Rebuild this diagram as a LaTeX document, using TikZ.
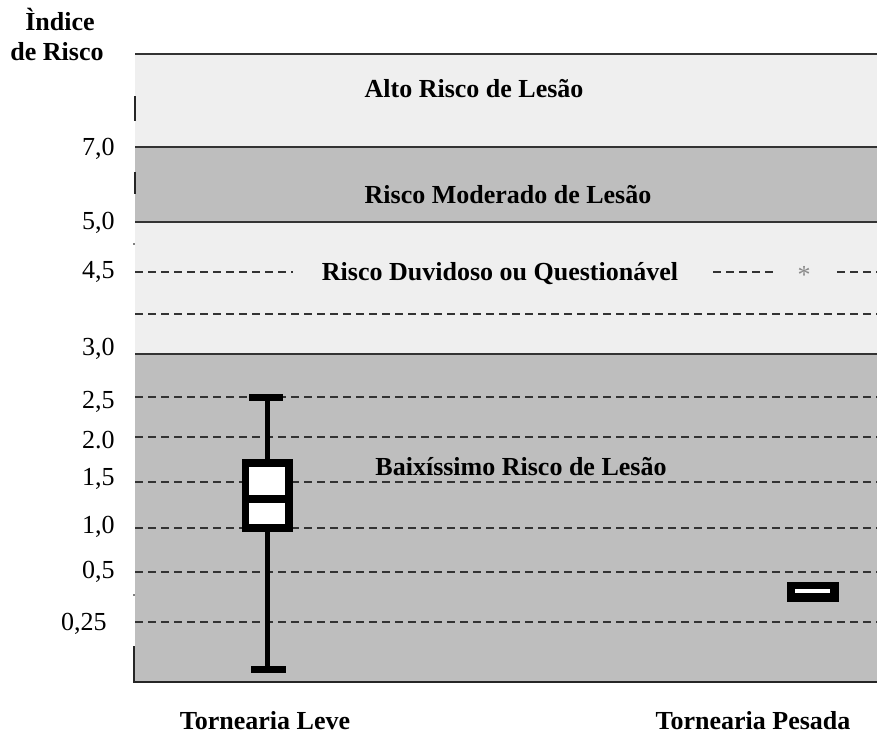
\documentclass[tikz,border=0pt]{standalone}
\usepackage{fontspec}
\setmainfont{Liberation Serif}
\definecolor{lightband}{HTML}{EFEFEF}
\definecolor{darkband}{HTML}{BEBEBE}
\definecolor{linec}{HTML}{333333}
\definecolor{astc}{HTML}{8A8A8A}
\begin{document}
\begin{tikzpicture}[x=0.75pt,y=-0.75pt,
  lbl/.style={font=\fontsize{19.5}{22}\selectfont\bfseries, inner sep=0pt, anchor=base},
  ticklbl/.style={font=\fontsize{19.5}{22}\selectfont, inner sep=0pt, anchor=base east},
  bandline/.style={draw=linec, line width=1.5pt},
  dashline/.style={draw=linec, line width=1.2pt, dash pattern=on 6pt off 3.75pt},
  axisline/.style={draw=black!85, line width=1.5pt},
]
\useasboundingbox (0,0) rectangle (877,736);
\fill[white] (0,0) rectangle (877,736);
% bands
\fill[lightband] (135,54) rectangle (877,147);
\fill[darkband] (135,147) rectangle (877,222);
\fill[lightband] (135,222) rectangle (877,354);
\fill[darkband] (135,354) rectangle (877,682);
% band borders
\draw[bandline] (135,54) -- (877,54);
\draw[bandline] (135,147) -- (877,147);
\draw[bandline] (135,222) -- (877,222);
\draw[bandline] (135,354) -- (877,354);
% dashed lines
\draw[dashline] (135,272) -- (293,272);
\draw[dashline] (713,272) -- (777,272);
\draw[dashline] (837,272) -- (877,272);
\foreach \yy in {314,397,437,482,528,572,622}
  \draw[dashline] (135,\yy) -- (877,\yy);
% axis fragments
\draw[axisline] (135,96) -- (135,121);
\draw[axisline] (135,172) -- (135,194);
\fill[black] (134,244) circle (0.9);
\fill[black] (134,595) circle (0.9);
\draw[axisline] (134,646) -- (134,682) -- (877,682);
% box plot: Tornearia Leve
\draw[black, line width=3.75pt] (267,397) -- (267,669);
\fill[black] (249,394) rectangle (283,401);
\fill[black] (251,666) rectangle (286,673);
\fill[black] (242,459) rectangle (293,532);
\fill[white] (249,467) rectangle (285,524);
\fill[black] (249,495) rectangle (285,503);
% box plot: Tornearia Pesada
\fill[black] (787,582) rectangle (839,602);
\fill[white] (795,589) rectangle (830,593);
% asterisk
\node[font=\fontsize{19.5}{22}\selectfont, text=astc, inner sep=0pt, anchor=base] (ast) at (804,283) {*};
% axis title
\node[lbl] (t1) at (60,30) {Ìndice};
\node[lbl] (t2) at (57,60) {de Risco};
% tick labels
\node[ticklbl] (l70) at (115,155) {7,0};
\node[ticklbl] (l50) at (115,229) {5,0};
\node[ticklbl] (l45) at (115,278) {4,5};
\node[ticklbl] (l30) at (115,355) {3,0};
\node[ticklbl] (l25) at (115,408) {2,5};
\node[ticklbl] (l20) at (115,448) {2.0};
\node[ticklbl] (l15) at (115,485) {1,5};
\node[ticklbl] (l10) at (115,533) {1,0};
\node[ticklbl] (l05) at (115,578) {0,5};
\node[ticklbl] (l025) at (107,630) {0,25};
% band labels
\node[lbl] (alto) at (474,97) {Alto Risco de Lesão};
\node[lbl] (mod) at (508,203) {Risco Moderado de Lesão};
\node[lbl] (duv) at (500,280) {Risco Duvidoso ou Questionável};
\node[lbl] (baixo) at (521,475) {Baixíssimo Risco de Lesão};
% category labels
\node[lbl] (leve) at (265,729) {Tornearia Leve};
\node[lbl] (pesada) at (753,729) {Tornearia Pesada};
\end{tikzpicture}
\end{document}
